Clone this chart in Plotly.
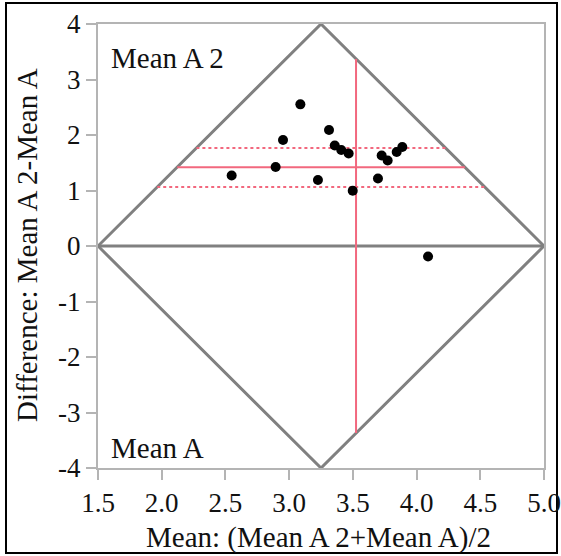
import plotly.graph_objects as go

# Data
mean_vals = [2.549, 2.894, 2.952, 3.088, 3.226, 3.313, 3.358, 3.409, 3.467, 3.499,
             3.697, 3.726, 3.773, 3.844, 3.888, 4.090]
diff_vals = [1.271, 1.423, 1.910, 2.552, 1.188, 2.090, 1.812, 1.729, 1.668, 0.995,
             1.217, 1.632, 1.542, 1.693, 1.784, -0.189]
mean_of_means = 3.525
mean_diff = 1.42
ci_upper = 1.765
ci_lower = 1.062
x_range = [1.5, 5.0]
y_range = [-4, 4]
x_ticks = [1.5, 2.0, 2.5, 3.0, 3.5, 4.0, 4.5, 5.0]
x_tick_labels = ["1.5", "2.0", "2.5", "3.0", "3.5", "4.0", "4.5", "5.0"]
y_ticks = [-4, -3, -2, -1, 0, 1, 2, 3, 4]
y_tick_labels = ["-4", "-3", "-2", "-1", "0", "1", "2", "3", "4"]

xmin, xmax = x_range
ymin, ymax = y_range
xmid = (xmin + xmax) / 2
half_w = (xmax - xmin) / 2
slope = ymax / half_w  # diamond edge slope


def diamond_x_at(y):
    d = abs(y) / slope
    return [xmin + d, xmax - d]


def diamond_y_at(x):
    h = ymax - abs(x - xmid) * slope
    return [-h, h]

RED = "rgb(242,104,126)"
GRAY = "#808080"
FONT = "Liberation Serif"

fig = go.Figure()

fig.add_trace(go.Scatter(
    x=[xmin, xmid, xmax, xmid, xmin], y=[0, ymax, 0, ymin, 0],
    mode="lines", line=dict(color=GRAY, width=3), cliponaxis=False,
    hoverinfo="skip", showlegend=False))
fig.add_trace(go.Scatter(
    x=[xmin, xmax], y=[0, 0], mode="lines",
    line=dict(color=GRAY, width=3), cliponaxis=False, showlegend=False))

fig.add_trace(go.Scatter(
    x=[mean_of_means, mean_of_means], y=diamond_y_at(mean_of_means),
    mode="lines", line=dict(color=RED, width=2), showlegend=False))
fig.add_trace(go.Scatter(
    x=diamond_x_at(mean_diff), y=[mean_diff, mean_diff],
    mode="lines", line=dict(color=RED, width=2), showlegend=False))
for v in (ci_upper, ci_lower):
    fig.add_trace(go.Scatter(
        x=diamond_x_at(v), y=[v, v], mode="lines",
        line=dict(color=RED, width=2, dash="3px,3px"), showlegend=False))

fig.add_trace(go.Scatter(
    x=mean_vals, y=diff_vals, mode="markers",
    marker=dict(color="black", size=10), showlegend=False))

W, H = 561, 556
L, R, T, B = 98, 17, 24, 88
pw, ph = W - L - R, H - T - B


def px_to_paper_x(px):
    return (px - L) / pw


def px_to_paper_y(py):
    return (H - B - py) / ph

axis_common = dict(
    showgrid=False, zeroline=False, showline=True, linecolor="#b4b4b4",
    linewidth=2, mirror=True, ticks="outside", ticklen=10, tickwidth=2,
    tickcolor="#b4b4b4", tickfont=dict(family=FONT, size=27, color="#111"),
)

fig.update_layout(
    width=W, height=H,
    margin=dict(l=L, r=R, t=T, b=B, autoexpand=False),
    plot_bgcolor="white", paper_bgcolor="white",
    xaxis=dict(range=x_range, tickvals=x_ticks, ticktext=x_tick_labels,
               **axis_common),
    yaxis=dict(range=y_range, tickvals=y_ticks, ticktext=y_tick_labels,
               **axis_common),
    annotations=[
        dict(text="Mean A 2", x=1.59, y=3.39, xref="x", yref="y",
             xanchor="left", yanchor="middle", showarrow=False,
             font=dict(family=FONT, size=29, color="#111")),
        dict(text="Mean A", x=1.59, y=-3.64, xref="x", yref="y",
             xanchor="left", yanchor="middle", showarrow=False,
             font=dict(family=FONT, size=29, color="#111")),
        dict(text="Mean: (Mean A 2+Mean A)/2", x=px_to_paper_x(318),
             y=px_to_paper_y(537), xref="paper", yref="paper",
             xanchor="center", yanchor="middle", showarrow=False,
             font=dict(family=FONT, size=29, color="#111")),
        dict(text="Difference: Mean A 2-Mean A", x=px_to_paper_x(27),
             y=px_to_paper_y(245), xref="paper", yref="paper", textangle=-90,
             xanchor="center", yanchor="middle", showarrow=False,
             font=dict(family=FONT, size=29, color="#111")),
    ],
    shapes=[dict(type="rect", xref="paper", yref="paper",
                 x0=px_to_paper_x(6), x1=px_to_paper_x(557),
                 y0=px_to_paper_y(553), y1=px_to_paper_y(3),
                 line=dict(color="black", width=2), layer="below")],
)

fig.write_html("out.html")
